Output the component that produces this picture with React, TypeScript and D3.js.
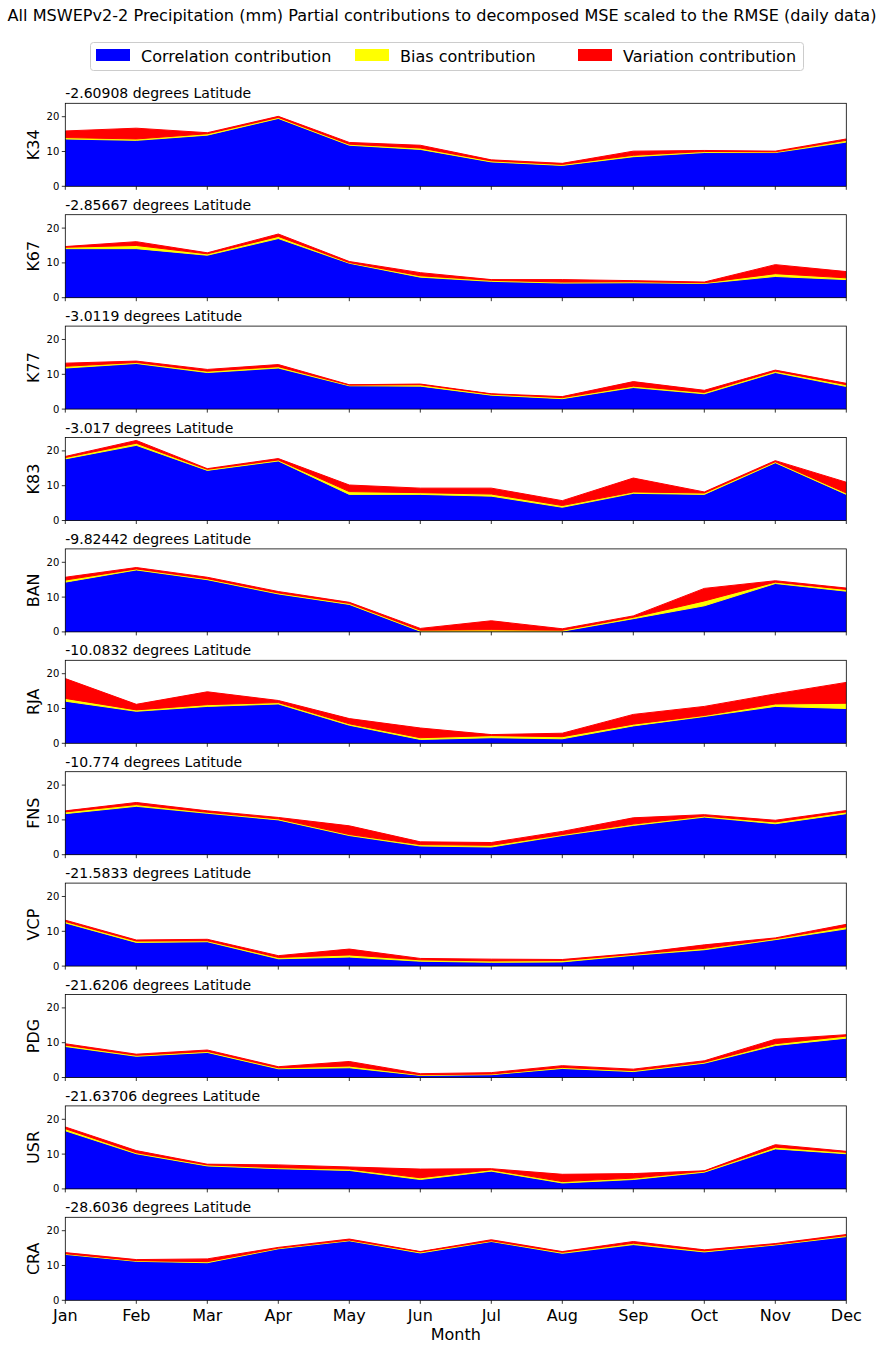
import React from "react";
import * as d3 from "d3";

const months = ["Jan", "Feb", "Mar", "Apr", "May", "Jun", "Jul", "Aug", "Sep", "Oct", "Nov", "Dec"];
const stations = ["K34", "K67", "K77", "K83", "BAN", "RJA", "FNS", "VCP", "PDG", "USR", "CRA"];
const latitudes = ["-2.60908", "-2.85667", "-3.0119", "-3.017", "-9.82442", "-10.0832", "-10.774", "-21.5833", "-21.6206", "-21.63706", "-28.6036"];
const yTicks = [0, 10, 20];
const seriesNames = ["Correlation contribution", "Bias contribution", "Variation contribution"];
const seriesColors = ["#0000ff", "#ffff00", "#ff0000"];

const corrK34 = [13.6, 13.2, 14.7, 19.5, 11.8, 10.6, 7.0, 6.0, 8.5, 9.7, 9.7, 12.7];
const biasK34 = [0.4, 0.4, 0.4, 0.3, 0.3, 0.4, 0.3, 0.3, 0.4, 0.3, 0.2, 0.5];
const varK34 = [1.9, 3.1, 0.3, 0.3, 0.5, 0.8, 0.3, 0.3, 1.2, 0.3, 0.2, 0.4];

const corrK67 = [14.1, 14.1, 12.2, 17.0, 9.9, 5.9, 4.7, 4.2, 4.3, 4.1, 6.1, 5.2];
const biasK67 = [0.4, 0.9, 0.4, 0.6, 0.2, 0.4, 0.3, 0.3, 0.3, 0.2, 0.8, 0.5];
const varK67 = [0.2, 1.1, 0.3, 0.7, 0.3, 0.9, 0.2, 0.7, 0.3, 0.2, 2.6, 1.8];

const corrK77 = [11.8, 13.1, 10.5, 11.8, 6.7, 6.6, 4.0, 3.0, 6.2, 4.4, 10.5, 6.5];
const biasK77 = [0.5, 0.3, 0.4, 0.4, 0.2, 0.4, 0.3, 0.3, 0.4, 0.4, 0.4, 0.5];
const varK77 = [0.9, 0.4, 0.5, 0.6, 0.1, 0.2, 0.1, 0.3, 1.3, 0.6, 0.3, 0.4];

const corrK83 = [17.7, 21.6, 14.4, 17.1, 7.5, 7.5, 7.0, 3.8, 7.8, 7.5, 16.6, 7.5];
const biasK83 = [0.4, 0.6, 0.3, 0.3, 0.8, 0.5, 0.6, 0.5, 0.4, 0.4, 0.3, 0.4];
const varK83 = [0.3, 0.8, 0.2, 0.4, 1.9, 1.3, 1.7, 1.4, 4.0, 0.3, 0.3, 3.1];

const corrBAN = [14.3, 17.8, 15.0, 10.9, 7.9, 0.2, 0.2, 0.2, 3.8, 7.5, 13.9, 11.7];
const biasBAN = [0.6, 0.3, 0.3, 0.3, 0.3, 0.3, 0.4, 0.3, 0.4, 1.4, 0.4, 0.5];
const varBAN = [0.8, 0.4, 0.4, 0.4, 0.3, 0.5, 2.6, 0.4, 0.4, 3.6, 0.4, 0.4];

const corrRJA = [12.1, 9.2, 10.6, 11.3, 5.2, 1.1, 1.6, 1.3, 5.0, 7.7, 10.6, 10.0];
const biasRJA = [0.8, 0.4, 0.5, 0.4, 0.4, 0.5, 0.6, 0.6, 0.5, 0.3, 0.7, 1.5];
const varRJA = [5.7, 1.6, 3.7, 0.6, 1.5, 2.8, 0.3, 1.0, 2.8, 2.6, 2.9, 6.0];

const corrFNS = [11.8, 13.9, 11.9, 10.0, 5.5, 2.5, 2.2, 5.5, 8.4, 10.8, 8.9, 11.8];
const biasFNS = [0.5, 0.5, 0.3, 0.3, 0.3, 0.4, 0.5, 0.3, 0.4, 0.3, 0.5, 0.5];
const varFNS = [0.3, 0.6, 0.4, 0.4, 2.5, 0.8, 0.8, 0.9, 1.8, 0.4, 0.5, 0.4];

const corrVCP = [12.4, 6.8, 7.0, 2.1, 2.6, 1.4, 1.1, 1.2, 3.1, 4.7, 7.6, 10.7];
const biasVCP = [0.4, 0.4, 0.3, 0.4, 0.6, 0.4, 0.4, 0.4, 0.3, 0.4, 0.3, 0.6];
const varVCP = [0.4, 0.3, 0.4, 0.5, 1.7, 0.4, 0.5, 0.3, 0.2, 1.0, 0.2, 0.7];

const corrPDG = [8.9, 6.1, 7.2, 2.5, 2.8, 0.6, 0.8, 2.6, 1.7, 4.1, 9.2, 11.3];
const biasPDG = [0.4, 0.3, 0.3, 0.3, 0.5, 0.2, 0.2, 0.3, 0.3, 0.3, 0.5, 0.6];
const varPDG = [0.4, 0.3, 0.4, 0.3, 1.3, 0.3, 0.4, 0.5, 0.4, 0.4, 1.3, 0.4];

const corrUSR = [16.7, 10.1, 6.6, 5.8, 5.3, 2.7, 5.1, 1.7, 2.7, 4.8, 11.5, 10.1];
const biasUSR = [0.6, 0.3, 0.3, 0.3, 0.4, 0.5, 0.4, 0.4, 0.4, 0.3, 0.5, 0.4];
const varUSR = [0.5, 0.6, 0.2, 0.8, 0.6, 2.5, 0.3, 2.1, 1.3, 0.1, 0.7, 0.3];

const corrCRA = [13.2, 11.2, 10.8, 14.8, 17.1, 13.6, 16.9, 13.5, 16.0, 13.9, 15.9, 18.3];
const biasCRA = [0.2, 0.2, 0.3, 0.2, 0.2, 0.3, 0.2, 0.3, 0.4, 0.3, 0.2, 0.3];
const varCRA = [0.3, 0.3, 0.8, 0.2, 0.3, 0.1, 0.3, 0.2, 0.5, 0.3, 0.2, 0.3];

const corrAll = [corrK34, corrK67, corrK77, corrK83, corrBAN, corrRJA, corrFNS, corrVCP, corrPDG, corrUSR, corrCRA];
const biasAll = [biasK34, biasK67, biasK77, biasK83, biasBAN, biasRJA, biasFNS, biasVCP, biasPDG, biasUSR, biasCRA];
const varAll = [varK34, varK67, varK77, varK83, varBAN, varRJA, varFNS, varVCP, varPDG, varUSR, varCRA];

const W = 884;
const H = 1349;
const LEFT = 65.3;
const RIGHT = 846.3;
const TOP0 = 103.3;
const STEP = 111.4;
const PH = 83;
const YMAX = 23.85;
const FONT = "DejaVu Sans, sans-serif";

export default function App() {
  const x = d3.scalePoint<string>().domain(months).range([LEFT, RIGHT]);
  const keys = ["corr", "bias", "var"];

  return (
    <svg
      width={W}
      height={H}
      style={{ position: "absolute", left: 0, top: 0, display: "block", background: "#fff" }}
      fontFamily={FONT}
    >
      <text x={442} y={21} textAnchor="middle" fontSize={16.1} fill="#000">
        All MSWEPv2-2 Precipitation (mm) Partial contributions to decomposed MSE scaled to the RMSE (daily data)
      </text>
      <g>
        <rect x={90.5} y={42.5} width={713} height={28} rx={3} fill="#fff" stroke="#cccccc" strokeWidth={1} />
        {seriesNames.map((n, i) => {
          const px = [96, 355, 578][i];
          return (
            <g key={n}>
              <rect x={px} y={49} width={34} height={12} fill={seriesColors[i]} />
              <text x={px + 45} y={62} fontSize={16} fill="#000">
                {n}
              </text>
            </g>
          );
        })}
      </g>
      {stations.map((st, si) => {
        const top = TOP0 + si * STEP;
        const y = d3.scaleLinear().domain([0, YMAX]).range([top + PH, top]);
        const rows = months.map((m, j) => ({
          month: m,
          corr: corrAll[si][j],
          bias: biasAll[si][j],
          var: varAll[si][j],
        }));
        const stacked = d3.stack<any>().keys(keys)(rows);
        const area = d3
          .area<any>()
          .x((d) => x(d.data.month) as number)
          .y0((d) => y(d[0]))
          .y1((d) => y(d[1]));
        const clipId = `clip-${st}`;
        return (
          <g key={st}>
            <defs>
              <clipPath id={clipId}>
                <rect x={LEFT} y={top} width={RIGHT - LEFT} height={PH} />
              </clipPath>
            </defs>
            <g clipPath={`url(#${clipId})`}>
              {stacked.map((s, k) => (
                <path
                  key={k}
                  d={area(s as any) || ""}
                  fill={seriesColors[k]}
                  stroke={seriesColors[k]}
                  strokeWidth={1}
                  strokeLinejoin="round"
                />
              ))}
            </g>
            <rect x={LEFT} y={top} width={RIGHT - LEFT} height={PH} fill="none" stroke="#000" strokeWidth={0.8} />
            {yTicks.map((t) => (
              <g key={t}>
                <line x1={LEFT - 3.5} x2={LEFT} y1={y(t)} y2={y(t)} stroke="#000" strokeWidth={0.8} />
                <text x={LEFT - 6} y={y(t)} dy="0.35em" textAnchor="end" fontSize={10} fill="#000">
                  {t}
                </text>
              </g>
            ))}
            {months.map((m) => (
              <line
                key={m}
                x1={x(m) as number}
                x2={x(m) as number}
                y1={top + PH}
                y2={top + PH + 3.5}
                stroke="#000"
                strokeWidth={0.8}
              />
            ))}
            <text x={LEFT} y={top - 5} fontSize={14} fill="#000">
              {latitudes[si]} degrees Latitude
            </text>
            <text
              transform={`translate(${38.5},${top + PH / 2}) rotate(-90)`}
              textAnchor="middle"
              fontSize={16}
              fill="#000"
            >
              {st}
            </text>
            {si === stations.length - 1 &&
              months.map((m) => (
                <text key={m} x={x(m) as number} y={top + PH + 21} textAnchor="middle" fontSize={16} fill="#000">
                  {m}
                </text>
              ))}
          </g>
        );
      })}
      <text x={(LEFT + RIGHT) / 2} y={1340} textAnchor="middle" fontSize={16} fill="#000">
        Month
      </text>
    </svg>
  );
}
